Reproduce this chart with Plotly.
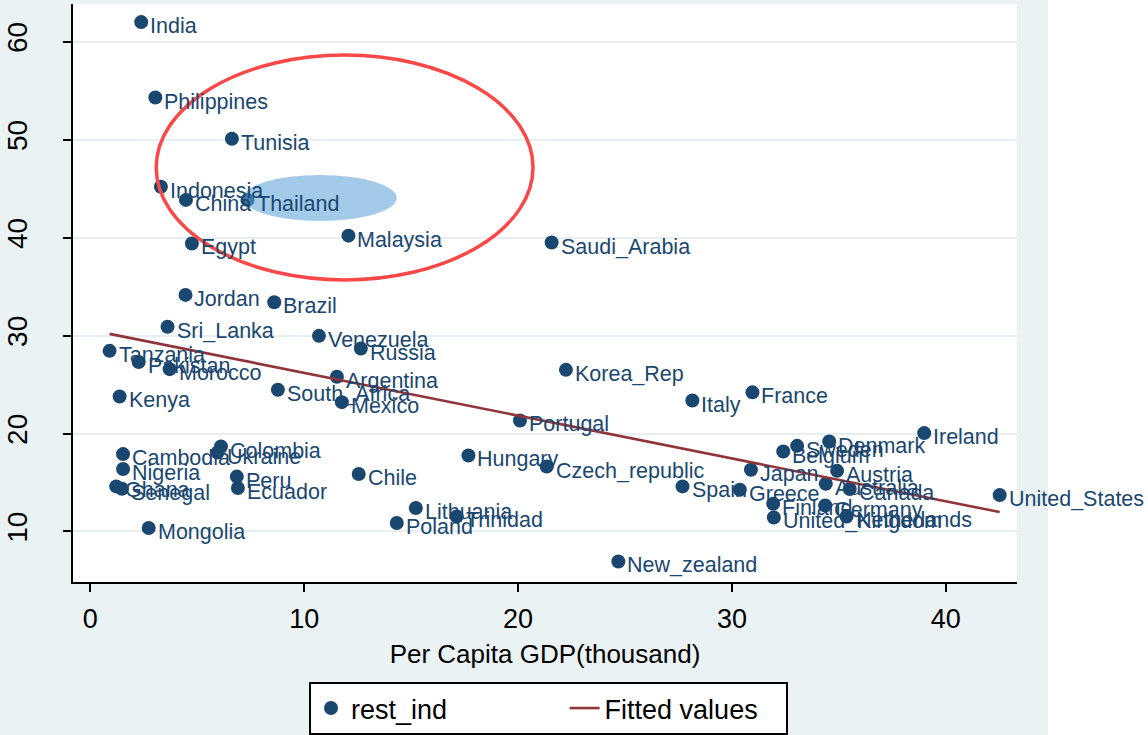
import plotly.graph_objects as go

countries = ["India", "Philippines", "Tunisia", "Indonesia", "China", "Thailand", "Egypt",
             "Malaysia", "Saudi_Arabia", "Jordan", "Brazil", "Sri_Lanka", "Venezuela", "Russia",
             "Tanzania", "Pakistan", "Morocco", "Argentina", "Kenya", "South_Africa", "Mexico",
             "Colombia", "Ukraine", "Cambodia", "Nigeria", "Ghana", "Senegal", "Peru", "Ecuador",
             "Chile", "Mongolia", "Lithuania", "Poland", "Trinidad", "Korea_Rep", "Italy", "France",
             "Portugal", "Hungary", "Czech_republic", "Spain", "Greece", "New_zealand", "Ireland",
             "Denmark", "Sweden", "Belgium", "Japan", "Austria", "Australia", "Canada", "Finland",
             "Germany", "United_Kingdom", "Netherlands", "United_States"]

gdp = [2.38, 3.04, 6.62, 3.30, 4.47, 7.35, 4.75,
       12.07, 21.57, 4.45, 8.60, 3.61, 10.69, 12.65,
       0.90, 2.26, 3.71, 11.53, 1.37, 8.77, 11.76,
       6.11, 5.95, 1.53, 1.53, 1.21, 1.48, 6.85, 6.90,
       12.55, 2.73, 15.22, 14.33, 17.13, 22.24, 28.15, 30.96,
       20.09, 17.68, 21.34, 27.69, 30.37, 24.69, 38.99,
       34.55, 33.05, 32.40, 30.89, 34.92, 34.39, 35.51, 31.93,
       34.36, 31.96, 35.36, 42.52]

rest_ind = [62.0, 54.3, 50.1, 45.2, 43.85, 43.85, 39.4,
            40.2, 39.5, 34.15, 33.4, 30.9, 29.97, 28.67,
            28.44, 27.3, 26.57, 25.8, 23.78, 24.46, 23.2,
            18.67, 18.06, 17.9, 16.37, 14.6, 14.36, 15.6, 14.43,
            15.86, 10.35, 12.4, 10.86, 11.53, 26.5, 23.37, 24.2,
            21.33, 17.76, 16.63, 14.6, 14.26, 6.94, 20.04,
            19.18, 18.74, 18.16, 16.3, 16.19, 14.87, 14.33, 12.83,
            12.65, 11.43, 11.53, 13.71]

fit_x = [0.90, 42.52]
fit_y = [30.17, 11.98]

x_ticks = [0, 10, 20, 30, 40]
y_ticks = [10, 20, 30, 40, 50, 60]

NAVY = "#1a476f"
MAROON = "#90353b"
BG = "#EAF2F3"
FONT = "Liberation Sans, Arial, sans-serif"
NB = "\u00a0"

fig = go.Figure()
fig.add_trace(go.Scatter(
    x=gdp, y=rest_ind, mode="markers", name="rest_ind" + NB * 15,
    marker=dict(color=NAVY, size=14, line=dict(width=0)),
    text=countries, hoverinfo="text+x+y",
))
fig.add_trace(go.Scatter(
    x=fit_x, y=fit_y, mode="lines", name="Fitted values" + NB * 3,
    line=dict(color=MAROON, width=2.6),
))

annotations = []
for c, xv, yv in zip(countries, gdp, rest_ind):
    annotations.append(dict(
        x=xv, y=yv, xref="x", yref="y", text=c, showarrow=False,
        xanchor="left", yanchor="middle", xshift=7, yshift=-4,
        font=dict(size=21.5, color=NAVY, family=FONT),
    ))

shapes = [
    # white page area to the right of the graph region
    dict(type="rect", xref="paper", yref="paper", x0=1.0328, x1=1.2, y0=-0.4, y1=1.1,
         fillcolor="white", line=dict(width=0), layer="below"),
    # highlighted region
    dict(type="circle", xref="x", yref="y", x0=7.15, x1=14.33, y0=41.7, y1=46.4,
         fillcolor="rgba(90,160,215,0.56)", line=dict(width=0), layer="above"),
    dict(type="circle", xref="x", yref="y", x0=3.08, x1=20.7, y0=35.68, y1=58.64,
         fillcolor="rgba(0,0,0,0)", line=dict(color="#F84848", width=3.5), layer="above"),
]

fig.update_layout(
    width=1148, height=735,
    margin=dict(l=73, r=131, t=4, b=153, autoexpand=False),
    paper_bgcolor=BG, plot_bgcolor="white",
    font=dict(family=FONT, color="black"),
    showlegend=True,
    legend=dict(
        orientation="h", xref="container", yref="container",
        x=309 / 1148, xanchor="left", y=(735 - 682) / 735, yanchor="top",
        bgcolor="white", bordercolor="black", borderwidth=2,
        font=dict(size=27, family=FONT, color="black"),
    ),
    annotations=annotations,
    shapes=shapes,
    xaxis=dict(
        range=[-0.81, 43.33], tickvals=x_ticks, ticktext=[str(v) for v in x_ticks],
        automargin=False,
        showgrid=False, zeroline=False, showline=True, linecolor="black", linewidth=2,
        ticks="outside", ticklen=8, tickwidth=2, tickcolor="black",
        tickfont=dict(size=27, family=FONT, color="black"), ticklabelstandoff=4,
        title=dict(text="Per Capita GDP(thousand)", font=dict(size=26, family=FONT, color="black"), standoff=11),
    ),
    yaxis=dict(
        range=[4.84, 63.85], tickvals=y_ticks, ticktext=[str(v) for v in y_ticks],
        automargin=False,
        showgrid=True, gridcolor="#E6EEF0", gridwidth=2, zeroline=False,
        showline=True, linecolor="black", linewidth=2,
        ticks="outside", ticklen=8, tickwidth=2, tickcolor="black",
        tickangle=-90, tickfont=dict(size=28, family=FONT, color="black"), ticklabelstandoff=25,
    ),
)

fig.write_html(
    "out.html",
    config={"displayModeBar": False},
    post_script="document.body.style.margin='0';document.body.style.overflow='hidden';",
)
